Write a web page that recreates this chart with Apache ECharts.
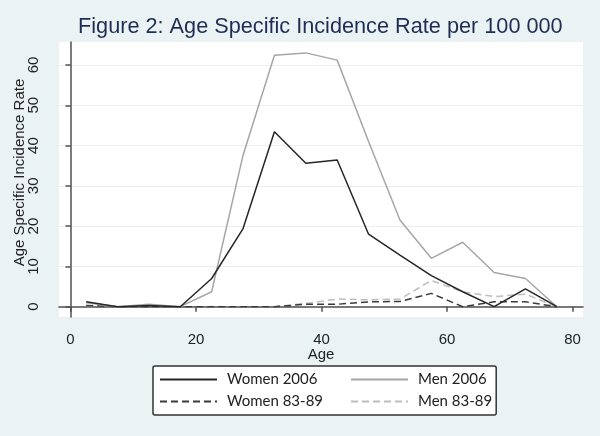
<!DOCTYPE html>
<html>
<head>
<meta charset="utf-8">
<script src="https://cdn.jsdelivr.net/npm/echarts@6/dist/echarts.min.js"></script>
<style>html,body{margin:0;padding:0;background:#eaf2f3;}#c{width:600px;height:436px;}</style>
</head>
<body>
<div id="c"></div>
<script>
const ages = [2.5, 7.5, 12.5, 17.5, 22.5, 27.5, 32.5, 37.5, 42.5, 47.5, 52.5, 57.5, 62.5, 67.5, 72.5, 77.5];
const women2006 = [1.2, 0, 0.3, 0, 7.0, 19.4, 43.4, 35.6, 36.4, 18.0, 12.8, 7.7, 3.7, 0, 4.4, 0];
const men2006 = [1.0, 0, 0.6, 0, 3.7, 37.6, 62.4, 63.0, 61.2, 41.0, 21.5, 12.0, 16.0, 8.5, 7.0, 0];
const women8389 = [0.3, 0, 0, 0, 0, 0, 0, 0.6, 0.6, 1.2, 1.3, 3.3, 0, 1.2, 1.2, 0];
const men8389 = [0.3, 0, 0, 0, 0, 0, 0, 0.8, 1.9, 1.7, 1.9, 6.5, 3.7, 2.5, 3.1, 0];
const xTicks = [0, 20, 40, 60, 80];
const yTicks = [0, 10, 20, 30, 40, 50, 60];
const xRange = [-1.83, 81.67];
const yRange = [-2.56, 65.7];
const names = ['Women 2006', 'Men 2006', 'Women 83-89', 'Men 83-89'];

const pairs = arr => ages.map((a, i) => [a, arr[i]]);
const styles = [
  {color: '#262626', type: 'solid'},
  {color: '#a6a6a6', type: 'solid'},
  {color: '#3a3a3a', type: [7, 4]},
  {color: '#bdbdbd', type: [7, 4]}
];
const seriesData = [women2006, men2006, women8389, men8389];

const chart = echarts.init(document.getElementById('c'));
chart.setOption({
  backgroundColor: '#eaf2f3',
  animation: false,
  title: {
    text: 'Figure 2: Age Specific Incidence Rate per 100 000',
    left: 73, top: 11,
    textStyle: {fontFamily: 'Liberation Sans', fontSize: 21.7, fontWeight: 'normal', color: '#1f2d55'}
  },
  grid: {left: 59, right: 17, top: 42, bottom: 119, show: true, backgroundColor: '#ffffff', borderWidth: 0},
  xAxis: {
    type: 'value', min: xRange[0], max: xRange[1],
    name: 'Age', nameLocation: 'middle', nameGap: 30, nameMoveOverlap: false,
    nameTextStyle: {fontFamily: 'Liberation Sans', fontSize: 15, color: '#222'},
    axisLine: {show: true, lineStyle: {color: '#505050', width: 1.5}},
    axisTick: {show: true, length: 5, customValues: xTicks, lineStyle: {color: '#505050', width: 1.5}},
    axisLabel: {customValues: xTicks, margin: 15, fontFamily: 'Liberation Sans', fontSize: 15, color: '#222'},
    splitLine: {show: false}
  },
  yAxis: {
    type: 'value', min: yRange[0], max: yRange[1],
    name: 'Age Specific Incidence Rate', nameLocation: 'middle', nameGap: 32, nameMoveOverlap: false,
    nameTextStyle: {fontFamily: 'Liberation Sans', fontSize: 15, color: '#222', padding: [0, 0, 0, 14]},
    axisLine: {show: true, lineStyle: {color: '#505050', width: 1.5}},
    axisTick: {show: true, length: 5, customValues: yTicks, lineStyle: {color: '#505050', width: 1.5}},
    axisLabel: {customValues: yTicks, rotate: 90, margin: 18, fontFamily: 'Liberation Sans', fontSize: 15, color: '#222'},
    splitLine: {show: true, lineStyle: {color: '#e9f0f2', width: 1}}
  },
  legend: {
    data: names,
    orient: 'horizontal',
    left: 153, top: 366, width: 340,
    padding: [6, 4, 6, 6],
    itemGap: 7,
    itemWidth: 57, itemHeight: 14,
    backgroundColor: '#ffffff',
    borderColor: '#333333', borderWidth: 1.5, borderRadius: 2,
    itemStyle: {color: 'rgba(0,0,0,0)', opacity: 0, borderWidth: 0},
    formatter: n => (n.indexOf('Women') === 0 ? '{a|' + n + '}' : '{b|' + n + '}'),
    textStyle: {
      fontFamily: 'Lato', fontSize: 15, color: '#222',
      rich: {
        a: {width: 116, padding: [0, 0, 0, 5], fontFamily: 'Lato', fontSize: 15, color: '#222', lineHeight: 16},
        b: {padding: [0, 0, 0, 5], fontFamily: 'Lato', fontSize: 15, color: '#222', lineHeight: 16}
      }
    }
  },
  series: seriesData.map((d, i) => ({
    name: names[i],
    type: 'line',
    data: pairs(d),
    symbol: 'none', showSymbol: false,
    lineStyle: {color: styles[i].color, width: 1.5, type: styles[i].type},
    itemStyle: {color: styles[i].color},
    z: 10 - i
  }))
});
</script>
</body>
</html>
